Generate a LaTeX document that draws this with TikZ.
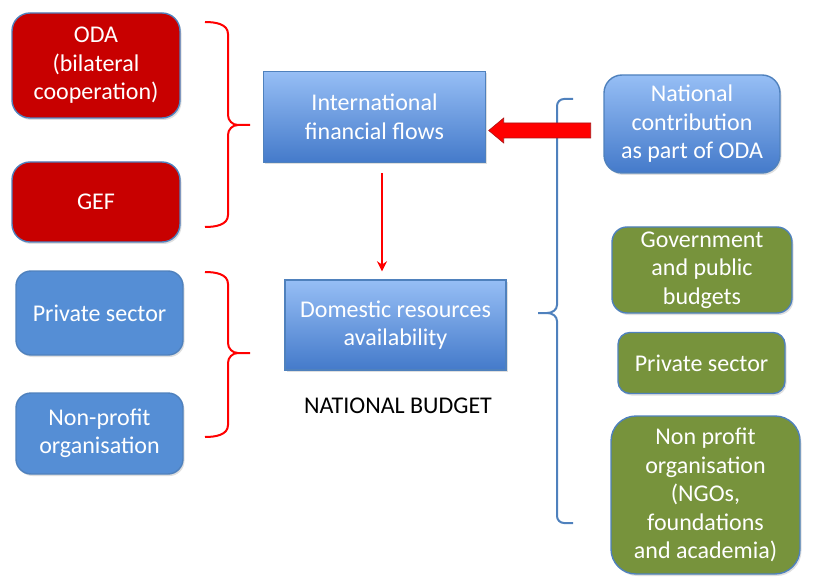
\documentclass[tikz,border=0pt]{standalone}
\usepackage{fontspec}
\setmainfont{Carlito}
\usepackage{tikz}
\usetikzlibrary{arrows.meta,shadows}
\definecolor{boxline}{RGB}{79,129,189}
\definecolor{odared}{RGB}{200,0,0}
\definecolor{flatblue}{RGB}{85,142,213}
\definecolor{gradtop}{RGB}{150,190,245}
\definecolor{gradbot}{RGB}{68,122,202}
\definecolor{olive}{RGB}{119,147,60}
\definecolor{brightred}{RGB}{255,0,0}
\definecolor{arrowrim}{RGB}{170,20,20}
\tikzstyle{basebox} = [draw=boxline, line width=1.4pt, text=white, align=center,
    inner sep=0pt, font=\fontsize{24}{28.5}\selectfont,
    drop shadow={opacity=0.25, shadow xshift=1.5pt, shadow yshift=-2pt}]
\tikzstyle{redbox} = [basebox, fill=odared, rounded corners=18pt]
\tikzstyle{bluebox} = [basebox, fill=flatblue, rounded corners=15pt]
\tikzstyle{gradbox} = [basebox, top color=gradtop, bottom color=gradbot]
\tikzstyle{greenbox} = [basebox, fill=olive, rounded corners=15pt]
\tikzstyle{redbrace} = [draw=brightred, line width=2pt]
\tikzstyle{bluebrace} = [draw=boxline, line width=2pt]
\tikzstyle{bigarrow} = [fill=brightred, draw=arrowrim, line width=0.6pt, line join=miter]

\begin{document}
\begin{tikzpicture}[x=1pt,y=-1pt]
\useasboundingbox (0,0) rectangle (813,577);
% sources on the left
\node [redbox, minimum width=168pt, minimum height=105pt] (oda) at (96,65.5)
    {ODA\\(bilateral\\cooperation)};
\node [redbox, minimum width=168pt, minimum height=80pt] (gef) at (96,202) {GEF};
\node [bluebox, minimum width=167pt, minimum height=84pt] (privl) at (99.5,313) {Private sector};
\node [bluebox, minimum width=167pt, minimum height=81pt] (nonprofl) at (99.5,433.5)
    {Non-profit\\organisation};
% flows in the middle
\node [gradbox, minimum width=222pt, minimum height=91pt] (intl) at (374.5,117)
    {International\\financial flows};
\node [gradbox, minimum width=221pt, minimum height=90pt] (dom) at (395.5,325)
    {Domestic resources\\availability};
\node [font=\fontsize{24}{28}\selectfont] (budget) at (398,406) {NATIONAL BUDGET};
% sources on the right
\node [gradbox, rounded corners=18pt, minimum width=176pt, minimum height=98pt] (natcon) at (692,124)
    {National\\contribution\\as part of ODA};
\node [greenbox, minimum width=180pt, minimum height=86pt] (gov) at (702,270)
    {Government\\and public\\budgets};
\node [greenbox, rounded corners=12pt, minimum width=167pt, minimum height=61pt] (privr) at (701.5,363)
    {Private sector};
\node [greenbox, rounded corners=25pt, minimum width=189pt, minimum height=158pt] (nonprofr) at (705.5,495)
    {Non profit\\organisation\\(NGOs,\\foundations\\and academia)};

% braces
\draw [redbrace] (205,22) to[out=0,in=90] (228,34) -- (228,115) to[out=-90,in=180] (238,125) -- (250,125);
\draw [redbrace] (238,125) to[out=180,in=90] (228,135) -- (228,215) to[out=-90,in=0] (205,227);
\draw [redbrace] (205,272) to[out=0,in=90] (228,284) -- (228,343) to[out=-90,in=180] (238,353) -- (250,353);
\draw [redbrace] (238,353) to[out=180,in=90] (228,363) -- (228,425) to[out=-90,in=0] (205,437);
\draw [bluebrace] (573,99) -- (564,99) to[out=180,in=90] (557,106) -- (557,305)
    to[out=-90,in=0] (547,313) -- (538,313);
\draw [bluebrace] (547,313) to[out=0,in=90] (557,321) -- (557,516)
    to[out=-90,in=180] (564,523) -- (573,523);

% arrows
\draw [brightred, line width=1.8pt, -{Stealth[length=10pt,width=10pt]}, shorten <=10pt, shorten >=8pt]
    ([xshift=7.5pt]intl.south) -- ([xshift=7.5pt]intl.south |- dom.north);
\draw [bigarrow] ([shift={(2.5,13.5)}]intl.east) -- ++(15,-12.5) -- ++(0,5) -- ++(87,0)
    -- ++(0,15) -- ++(-87,0) -- ++(0,5) -- cycle;
\end{tikzpicture}
\end{document}
